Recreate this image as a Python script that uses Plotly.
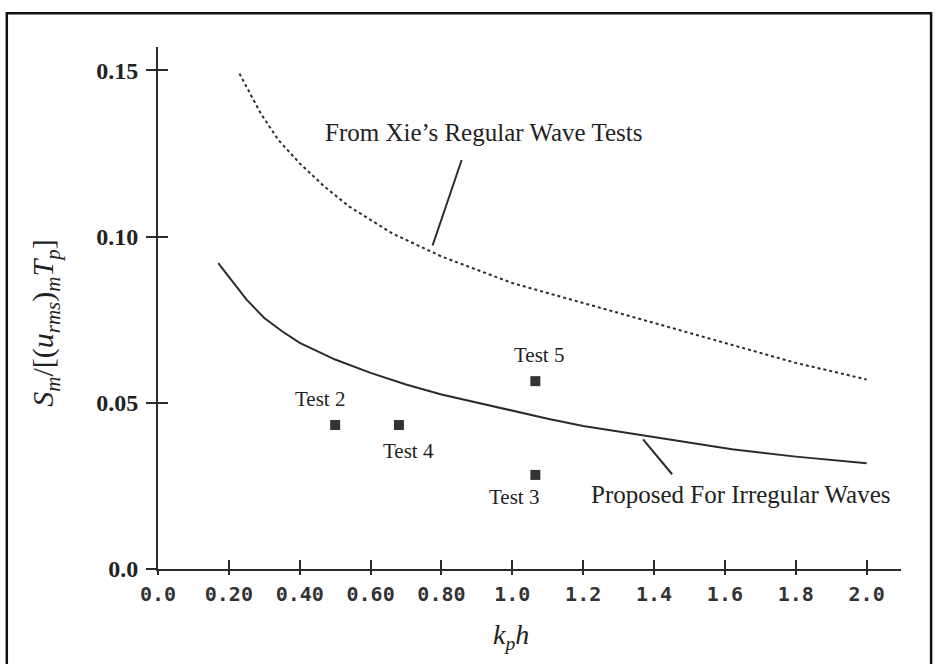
import plotly.graph_objects as go

# ---- data ----
xie_x = [0.23, 0.29, 0.34, 0.40, 0.47, 0.54, 0.66, 0.80, 0.90, 1.00, 1.10, 1.20, 1.40, 1.60, 1.80, 2.00]
xie_y = [0.149, 0.137, 0.129, 0.122, 0.115, 0.109, 0.101, 0.094, 0.090, 0.086, 0.083, 0.080, 0.074, 0.068, 0.062, 0.057]

prop_x = [0.17, 0.25, 0.30, 0.35, 0.40, 0.50, 0.60, 0.70, 0.80, 0.90, 1.00, 1.10, 1.20, 1.36, 1.50, 1.62, 1.80, 2.00]
prop_y = [0.092, 0.081, 0.0755, 0.0715, 0.068, 0.063, 0.059, 0.0555, 0.0525, 0.050, 0.0475, 0.0452, 0.043, 0.0403, 0.038, 0.036, 0.0338, 0.0318]

test_names = ["Test 2", "Test 4", "Test 3", "Test 5"]
test_x = [0.50, 0.68, 1.065, 1.065]
test_y = [0.0433, 0.0433, 0.0283, 0.0565]

x_tickvals = [0.0, 0.2, 0.4, 0.6, 0.8, 1.0, 1.2, 1.4, 1.6, 1.8, 2.0]
x_ticktext = ["0.0", "0.20", "0.40", "0.60", "0.80", "1.0", "1.2", "1.4", "1.6", "1.8", "2.0"]
y_tickvals = [0.0, 0.05, 0.10, 0.15]
y_ticktext = ["0.0", "0.05", "0.10", "0.15"]

INK = "#2b2b2b"
SERIF = "Liberation Serif"

fig = go.Figure()
fig.add_trace(go.Scatter(x=xie_x, y=xie_y, mode="lines", line=dict(color=INK, width=2, dash="dot"),
                         showlegend=False, hoverinfo="skip"))
fig.add_trace(go.Scatter(x=prop_x, y=prop_y, mode="lines", line=dict(color=INK, width=2),
                         showlegend=False, hoverinfo="skip"))
fig.add_trace(go.Scatter(x=test_x, y=test_y, mode="markers", xaxis="x2", yaxis="y2",
                         marker=dict(symbol="square", size=10, color="#333333"),
                         showlegend=False, hoverinfo="skip"))

XR = [0, 2.097]
YR = [0, 0.157]

fig.update_layout(
    width=939, height=664, autosize=False,
    margin=dict(l=158, r=38, t=47, b=95),
    paper_bgcolor="white", plot_bgcolor="white",
    xaxis=dict(range=XR, tickvals=x_tickvals, ticktext=x_ticktext, ticks="outside", ticklen=4,
               tickwidth=1.5, tickcolor=INK, showline=True, linewidth=1.8, linecolor=INK,
               showgrid=False, zeroline=False, ticklabelstandoff=2,
               tickfont=dict(family="DejaVu Sans Mono", size=20, color="#333333", weight="bold")),
    yaxis=dict(range=YR, tickvals=y_tickvals, ticktext=y_ticktext, ticks="outside", ticklen=10,
               tickwidth=1.5, tickcolor=INK, showline=True, linewidth=1.8, linecolor=INK,
               showgrid=False, zeroline=False, ticklabelstandoff=3,
               tickfont=dict(family=SERIF, size=24, color="#222222", weight="bold")),
    xaxis2=dict(range=XR, overlaying="x", anchor="y2", side="bottom", tickvals=x_tickvals,
                ticks="inside", ticklen=9, tickwidth=1.5, tickcolor=INK, showticklabels=False,
                showline=False, showgrid=False, zeroline=False),
    yaxis2=dict(range=YR, overlaying="y", anchor="x2", side="left", tickvals=y_tickvals,
                ticks="inside", ticklen=10, tickwidth=1.5, tickcolor=INK, showticklabels=False,
                showline=False, showgrid=False, zeroline=False),
)

annotations = []
# series labels
annotations.append(dict(x=0.92, y=0.1313, xref="x", yref="y", text="From Xie’s Regular Wave Tests",
                        showarrow=False, font=dict(family=SERIF, size=25, color="#222222")))
annotations.append(dict(x=1.645, y=0.0223, xref="x", yref="y", text="Proposed For Irregular Waves",
                        showarrow=False, font=dict(family=SERIF, size=25, color="#222222")))
# test labels (offsets from each marker)
label_shift = {"Test 2": (-15, 26), "Test 4": (10, -26), "Test 3": (-21, -22), "Test 5": (4, 26)}
for n, xv, yv in zip(test_names, test_x, test_y):
    dx, dy = label_shift[n]
    annotations.append(dict(x=xv, y=yv, xref="x", yref="y", text=n, showarrow=False,
                            xshift=dx, yshift=dy, font=dict(family=SERIF, size=21, color="#222222")))
# axis titles
annotations.append(dict(x=-0.152, y=0.47, xref="paper", yref="paper", xanchor="center", yanchor="middle",
                        textangle=-90, showarrow=False,
                        text="<i>S</i><sub><i>m</i></sub>/[(<i>u</i><sub><i>rms</i></sub>)<sub><i>m</i></sub><i>T</i><sub><i>p</i></sub>]",
                        font=dict(family=SERIF, size=30, color="#222222")))
annotations.append(dict(x=0.475, y=-0.13, xref="paper", yref="paper", xanchor="center", yanchor="middle",
                        showarrow=False, text="<i>k</i><sub><i>p</i></sub><i>h</i>",
                        font=dict(family=SERIF, size=28, color="#222222")))
fig.update_layout(annotations=annotations)

# leader lines and frame
shapes = [
    dict(type="line", xref="x", yref="y", x0=0.857, y0=0.1230, x1=0.775, y1=0.0973,
         line=dict(color=INK, width=2)),
    dict(type="line", xref="x", yref="y", x0=1.369, y0=0.0390, x1=1.451, y1=0.0285,
         line=dict(color=INK, width=2)),
    dict(type="rect", xref="paper", yref="paper", x0=-0.2035, x1=1.0405, y0=-0.19, y1=1.0645,
         line=dict(color="#111111", width=2.5), fillcolor="rgba(0,0,0,0)"),
]
fig.update_layout(shapes=shapes)

fig.write_html("out.html")
